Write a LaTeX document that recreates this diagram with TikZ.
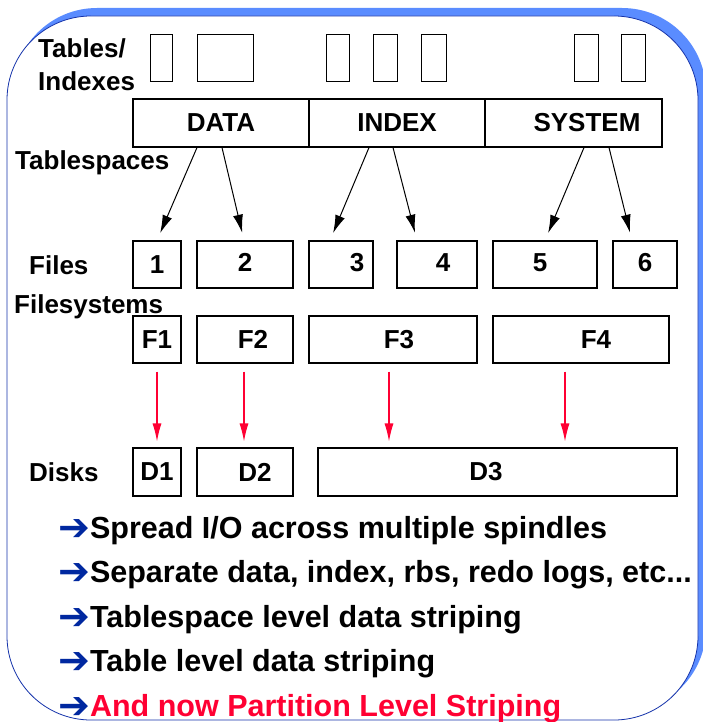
\documentclass[tikz,border=0pt]{standalone}
\usepackage{fontspec}
\setmainfont{Liberation Sans}
\newfontfamily\symfont{DejaVu Sans}
\usepackage{xcolor}
\usetikzlibrary{arrows.meta,positioning}
\definecolor{framedark}{RGB}{20,50,170}
\definecolor{frameshade}{RGB}{90,140,255}
\definecolor{stripered}{RGB}{255,0,51}
\definecolor{bulletblue}{RGB}{0,40,160}
\newcommand{\bul}{\raisebox{-2pt}{\fontsize{38}{38}\symfont\color{bulletblue}➔}\hspace{0pt}}

\begin{document}
\begin{tikzpicture}[
  x=1pt, y=-1pt,
  font=\fontsize{26}{30}\selectfont\bfseries,
  box/.style={draw, line width=1.1pt, inner sep=0pt, minimum height=48pt},
  tbl/.style={draw, line width=1pt, inner sep=0pt, minimum height=47pt},
  lbl/.style={anchor=base west, inner sep=0pt},
  bullet/.style={anchor=base west, inner sep=0pt, font=\fontsize{30.5}{34}\selectfont\bfseries},
  arr/.style={-{Latex[length=18pt, width=10pt]}, line width=1pt, shorten >=8pt},
  redarr/.style={-{Latex[length=18pt, width=9pt]}, line width=1.1pt, stripered,
    shorten <=8pt, shorten >=6pt}
]
\useasboundingbox (0,0) rectangle (702,722);
% frame with shadow
\fill[frameshade, rounded corners=84pt] (13,8) rectangle (706,712);
\draw[framedark, fill=white, line width=0.8pt, rounded corners=84pt] (7,16) rectangle (698,720);

% row labels
\node[lbl] (tables) at (38,58) {Tables/};
\node[lbl] (indexes) at (38,91) {Indexes};
\node[lbl] (tspaces) at (15,170) {Tablespaces};
\node[lbl] (files) at (29,274) {Files};
\node[lbl] (fsys) at (14,313) {Filesystems};
\node[lbl] (disks) at (29,481) {Disks};

% tables / indexes
\node[tbl, minimum width=22pt] (t1) at (161,58.5) {};
\node[tbl, minimum width=56pt] (t2) at (225,58.5) {};
\node[tbl, minimum width=23pt] (t3) at (337.5,58.5) {};
\node[tbl, minimum width=24pt] (t4) at (385,58.5) {};
\node[tbl, minimum width=25pt] (t5) at (433.5,58.5) {};
\node[tbl, minimum width=24pt] (t6) at (586,58.5) {};
\node[tbl, minimum width=24pt] (t7) at (633,58.5) {};

% tablespaces
\node[box, minimum width=176pt] (data) at (221,123) {DATA};
\node[box, minimum width=176pt] (index) at (397,123) {INDEX};
\node[box, minimum width=177pt] (system) at (573.5,123) {\hspace*{27pt}SYSTEM};

% files
\node[box, minimum width=48pt, minimum height=47pt] (f1) at (157,264.5) {1};
\node[box, minimum width=96pt, minimum height=47pt] (f2) at (245,264.5) {\raisebox{4pt}{2}};
\node[box, minimum width=64pt, minimum height=47pt] (f3) at (341,264.5) {\hspace*{32pt}\raisebox{4pt}{3}};
\node[box, minimum width=80pt, minimum height=47pt] (f4) at (437,264.5) {\hspace*{12pt}\raisebox{4pt}{4}};
\node[box, minimum width=104pt, minimum height=47pt] (f5) at (545,264.5) {\raisebox{4pt}{5}\hspace*{10pt}};
\node[box, minimum width=64pt, minimum height=47pt] (f6) at (645,264.5) {\raisebox{4pt}{6}};

% filesystems
\node[box, minimum width=48pt, minimum height=47pt] (fs1) at (157,339.5) {F1};
\node[box, minimum width=96pt, minimum height=47pt] (fs2) at (245,339.5) {\hspace*{16pt}F2};
\node[box, minimum width=168pt, minimum height=47pt] (fs3) at (393,339.5) {\hspace*{12pt}F3};
\node[box, minimum width=176pt, minimum height=47pt] (fs4) at (581,339.5) {\hspace*{30pt}F4};

% disks
\node[box, minimum width=48pt] (d1) at (157,472) {D1};
\node[box, minimum width=96pt] (d2) at (245,472) {\hspace*{20pt}D2};
\node[box, minimum width=359pt] (d3) at (497.5,472) {D3\hspace*{23pt}};

% tablespaces to files
\draw[arr] ([xshift=-24pt]data.south) -- (f1.north);
\draw[arr] ([xshift=1pt]data.south) -- ([xshift=-1pt]f2.north);
\draw[arr] ([xshift=-28pt]index.south) -- ([xshift=-11pt]f3.north);
\draw[arr] ([xshift=-4pt]index.south) -- ([xshift=-20pt]f4.north);
\draw[arr] ([xshift=10.5pt]system.south) -- (f5.north);
\draw[arr] ([xshift=35.5pt]system.south) -- ([xshift=-13pt]f6.north);

% filesystems to disks
\coordinate (r1) at (fs1.south);
\coordinate (r2) at ([xshift=-1pt]fs2.south);
\coordinate (r3) at ([xshift=-4pt]fs3.south);
\coordinate (r4) at ([xshift=-16pt]fs4.south);
\draw[redarr] (r1) -- (r1 |- d1.north);
\draw[redarr] (r2) -- (r2 |- d2.north);
\draw[redarr] (r3) -- (r3 |- d3.north);
\draw[redarr] (r4) -- (r4 |- d3.north);

% bullets
\node[bullet] (b1) at (58,538) {\bul Spread I/O across multiple spindles};
\node[bullet] (b2) at (58,582) {\bul Separate data, index, rbs, redo logs, etc...};
\node[bullet] (b3) at (58,627) {\bul Tablespace level data striping};
\node[bullet] (b4) at (58,671) {\bul Table level data striping};
\node[bullet] (b5) at (58,716) {\bul\textcolor{stripered}{And now Partition Level Striping}};
\end{tikzpicture}
\end{document}
